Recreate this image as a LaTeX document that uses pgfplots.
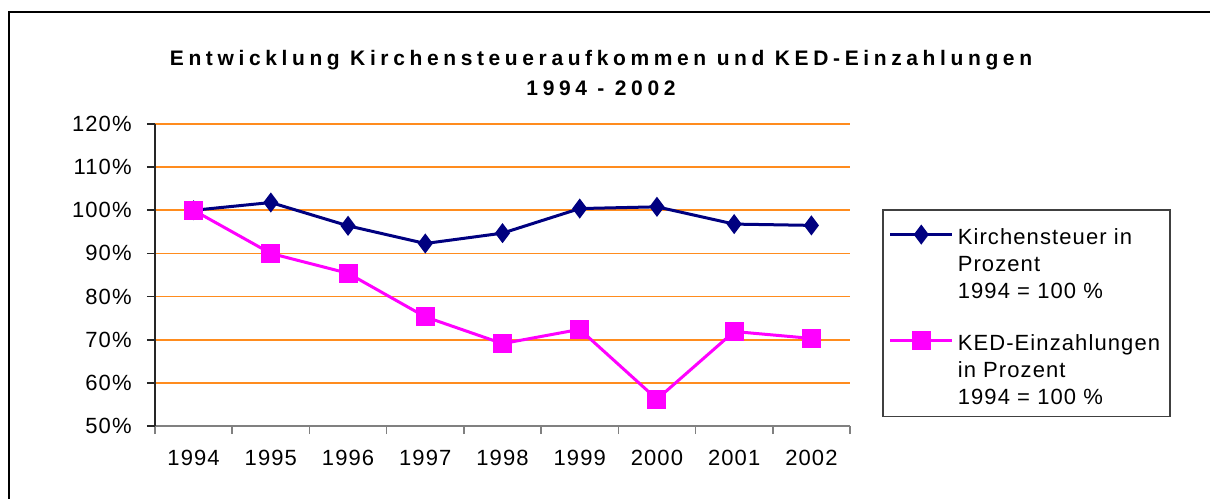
\documentclass[border=0pt]{standalone}
\usepackage{fontspec}
\setmainfont{Liberation Sans}
\newfontfamily\tickfont[LetterSpace=5]{Liberation Sans}
\newfontfamily\titlefont[LetterSpace=22]{Liberation Sans}
\usepackage{pgfplots}
\pgfplotsset{compat=1.18}
\definecolor{navyline}{RGB}{0,0,128}
\definecolor{magline}{RGB}{255,0,255}
\definecolor{gridorange}{RGB}{255,140,30}
\begin{document}
\begin{tikzpicture}
\useasboundingbox (0,0) rectangle (605bp,249.5bp);
\draw[line width=1.2bp] (4.5bp,-2bp) -- (4.5bp,243.5bp) -- (607bp,243.5bp);
\node[font=\titlefont\bfseries\fontsize{10.5bp}{12bp}\selectfont, anchor=base] at (300.5bp,216.6bp) {Entwicklung Kirchensteueraufkommen und KED-Einzahlungen};
\node[font=\titlefont\bfseries\fontsize{10.5bp}{12bp}\selectfont, anchor=base] at (300.5bp,201.5bp) {1994 - 2002};
\begin{axis}[
  at={(77.5bp,36.5bp)}, anchor=south west,
  scale only axis, width=347.5bp, height=151bp,
  xmin=-0.5, xmax=8.5, ymin=50, ymax=120,
  xtick={-0.5,0.5,...,8.5},
  xticklabels={},
  extra x ticks={0,1,2,3,4,5,6,7,8},
  extra x tick labels={1994,1995,1996,1997,1998,1999,2000,2001,2002},
  extra x tick style={major tick length=0pt, xticklabel style={yshift=-12bp}},
  ytick={50,60,...,120},
  yticklabels={50\%,60\%,70\%,80\%,90\%,100\%,110\%,120\%},
  axis x line*=bottom, axis y line*=left,
  x axis line style={draw=gray, line width=1bp},
  y axis line style={draw=black!85, line width=1bp},
  tick align=outside,
  major tick length=4bp,
  ytick style={draw=black!85, line width=0.8bp},
  xtick style={draw=gray, line width=0.8bp},
  ymajorgrids,
  major grid style={draw=gridorange, line width=0.9bp},
  ticklabel style={font=\tickfont\fontsize{11bp}{13.35bp}\selectfont, inner sep=0pt},
  yticklabel style={xshift=-7.5bp},
  clip=false,
  legend style={at={(1.046,0.7185)}, anchor=north west,
    draw=black!75, line width=0.8bp, inner xsep=3bp, inner ysep=2.6bp,
    row sep=0pt, column sep=0pt,
    font=\tickfont\fontsize{11bp}{13.35bp}\selectfont,
    cells={anchor=base west, inner sep=0pt, text depth=0pt}},
  legend image code/.code={\draw[mark repeat=2,mark phase=2,yshift=5bp,#1] plot coordinates {(0bp,0bp) (15.5bp,0bp) (31bp,0bp)};},
]
\addplot[navyline, line width=1.5bp, mark=diamond*, mark size=3.8bp, mark options={solid, fill=navyline, draw=navyline}]
  coordinates {(0,100) (1,101.8) (2,96.4) (3,92.3) (4,94.7) (5,100.4) (6,100.8) (7,96.8) (8,96.5)};
\addlegendentry{\rule{0pt}{12.8bp}Kirchensteuer in}
\addlegendimage{empty legend}
\addlegendentry{\rule{0pt}{8.0bp}Prozent}
\addlegendimage{empty legend}
\addlegendentry{\rule{0pt}{8.0bp}1994 = 100 \%}
\addplot[magline, line width=1.5bp, mark=square*, mark size=4bp, mark options={solid, fill=magline, draw=magline}]
  coordinates {(0,100) (1,90.0) (2,85.4) (3,75.3) (4,69.1) (5,72.4) (6,56.2) (7,71.9) (8,70.3)};
\addlegendentry{\rule{0pt}{20.5bp}KED-Einzahlungen}
\addlegendimage{empty legend}
\addlegendentry{\rule{0pt}{8.0bp}in Prozent}
\addlegendimage{empty legend}
\addlegendentry{\rule{0pt}{8.0bp}1994 = 100 \%}
\end{axis}
\end{tikzpicture}
\end{document}
